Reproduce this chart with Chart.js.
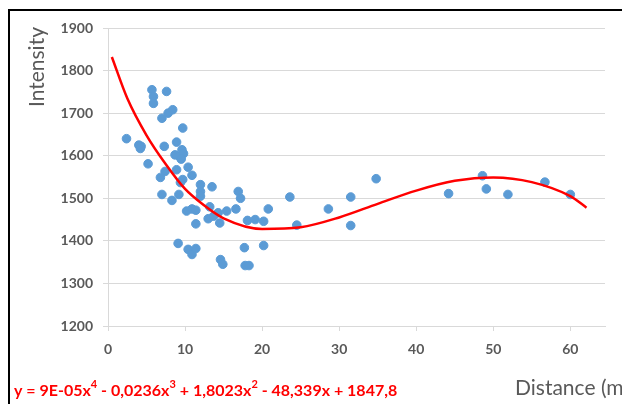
<!DOCTYPE html>
<html>
<head>
<meta charset="utf-8">
<script src="https://cdn.jsdelivr.net/npm/chart.js@4"></script>
<style>
  html, body { margin: 0; padding: 0; background: #fff; overflow: hidden; }
  #wrap { position: relative; width: 622px; height: 404px; }
  #frame { position: absolute; left: 8px; top: 9px; width: 700px; height: 500px;
           border-top: 2px solid #000; border-left: 2px solid #000; }
  canvas { position: absolute; left: 0; top: 0; }
</style>
</head>
<body>
<div id="wrap">
  <div id="frame"></div>
  <canvas id="chart" width="622" height="404"></canvas>
</div>
<script>
// measured points (distance in m, intensity)
const distance = [2.4, 4.0, 4.2, 4.3, 5.2, 5.7, 5.9, 5.9, 7.6, 7.0, 7.8, 8.4, 9.7, 7.3, 8.9, 9.6, 8.7, 9.3, 9.8, 9.5,
    10.4, 8.9, 7.4, 6.8, 10.9, 9.7, 9.4, 12.0, 13.5, 12.0, 16.9, 7.0, 9.2, 12.0, 17.2, 23.6, 8.3, 10.2, 10.9, 11.4,
    11.4, 13.0, 9.1, 10.4, 10.9, 11.4, 13.2, 14.3, 15.4, 16.6, 20.8, 13.7, 14.5, 18.1, 19.1, 20.2, 24.5, 17.7, 20.2, 14.6,
    14.9, 17.8, 18.3, 28.6, 31.5, 31.5, 34.8, 44.2, 48.6, 49.1, 51.9, 56.7, 60.0];
const intensity = [1640, 1625, 1617, 1622, 1581, 1755, 1739, 1723, 1751, 1688, 1700, 1708, 1665, 1622, 1632, 1614, 1602, 1598, 1605, 1592,
    1573, 1567, 1563, 1549, 1554, 1544, 1537, 1532, 1527, 1516, 1516, 1509, 1509, 1505, 1500, 1503, 1495, 1470, 1475, 1472,
    1440, 1452, 1394, 1380, 1368, 1382, 1480, 1466, 1470, 1475, 1475, 1458, 1442, 1448, 1450, 1446, 1437, 1384, 1389, 1356,
    1345, 1342, 1342, 1475, 1503, 1436, 1546, 1511, 1553, 1522, 1509, 1538, 1509];

// trendline
const trendX = [0.5, 2.5, 5, 7.5, 10, 12.5, 15, 20, 25, 30, 35, 40, 45, 50, 55, 60, 62.1];
const trendY = [1832, 1735, 1648, 1580, 1522, 1483, 1453, 1428, 1432, 1455, 1487, 1518, 1541, 1549, 1538, 1505, 1478];

const xTicks = [0, 10, 20, 30, 40, 50, 60];
const yTicks = [1200, 1300, 1400, 1500, 1600, 1700, 1800, 1900];

const gray = '#595959';
const gridColor = '#d9d9d9';

const points = distance.map((x, i) => ({ x: x, y: intensity[i] }));
const trend = trendX.map((x, i) => ({ x: x, y: trendY[i] }));

const textPlugin = {
    id: 'texts',
    afterDraw(chart) {
        const ctx = chart.ctx;
        ctx.save();
        // y title
        ctx.fillStyle = gray;
        ctx.font = '21px Lato';
        ctx.translate(37, 27);
        ctx.rotate(-Math.PI / 2);
        ctx.textAlign = 'right';
        ctx.textBaseline = 'middle';
        ctx.fillText('Intensity', 0, 0);
        ctx.restore();

        ctx.save();
        ctx.fillStyle = gray;
        ctx.font = '21px Lato';
        ctx.textBaseline = 'alphabetic';
        ctx.fillText('Distance (m)', 515, 395);

        // equation
        const parts = [
            ['y = 9E-05x', false], ['4', true], [' - 0,0236x', false], ['3', true],
            [' + 1,8023x', false], ['2', true], [' - 48,339x + 1847,8', false]
        ];
        let x = 14;
        ctx.fillStyle = '#ff0000';
        parts.forEach(p => {
            ctx.font = p[1] ? 'bold 11px Lato' : 'bold 16px Lato';
            const y = p[1] ? 388 : 396;
            ctx.fillText(p[0], x, y);
            x += ctx.measureText(p[0]).width;
        });
        ctx.restore();
    }
};

new Chart(document.getElementById('chart'), {
    type: 'scatter',
    data: {
        datasets: [
            {
                label: 'Trend',
                data: trend,
                showLine: true,
                borderColor: '#ff0000',
                borderWidth: 2.5,
                pointRadius: 0,
                cubicInterpolationMode: 'monotone',
                order: 0
            },
            {
                label: 'Intensity',
                data: points,
                backgroundColor: '#5b9bd5',
                borderColor: '#5b9bd5',
                pointRadius: 4.3,
                pointHoverRadius: 4.3,
                order: 1
            }
        ]
    },
    options: {
        responsive: false,
        animation: false,
        events: [],
        layout: { padding: { left: 10, top: 28, right: 17, bottom: 0 } },
        plugins: {
            legend: { display: false },
            tooltip: { enabled: false }
        },
        scales: {
            x: {
                type: 'linear',
                min: 0,
                max: 64.5,
                afterBuildTicks: s => { s.ticks = xTicks.map(v => ({ value: v })); },
                afterFit: s => { s.height = 78; },
                ticks: { color: gray, font: { family: 'Lato', size: 14, weight: 'bold' }, padding: 10,
                         callback: v => String(v) },
                grid: { drawOnChartArea: false, tickLength: 5, tickColor: gridColor },
                border: { color: gridColor }
            },
            y: {
                min: 1200,
                max: 1900,
                afterBuildTicks: s => { s.ticks = yTicks.map(v => ({ value: v })); },
                afterFit: s => { s.width = 98; },
                ticks: { color: gray, font: { family: 'Lato', size: 14, weight: 'bold' }, padding: 10,
                         callback: v => String(v) },
                grid: { color: gridColor, tickLength: 5, tickColor: gridColor },
                border: { color: gridColor }
            }
        }
    },
    plugins: [textPlugin]
});
</script>
</body>
</html>
